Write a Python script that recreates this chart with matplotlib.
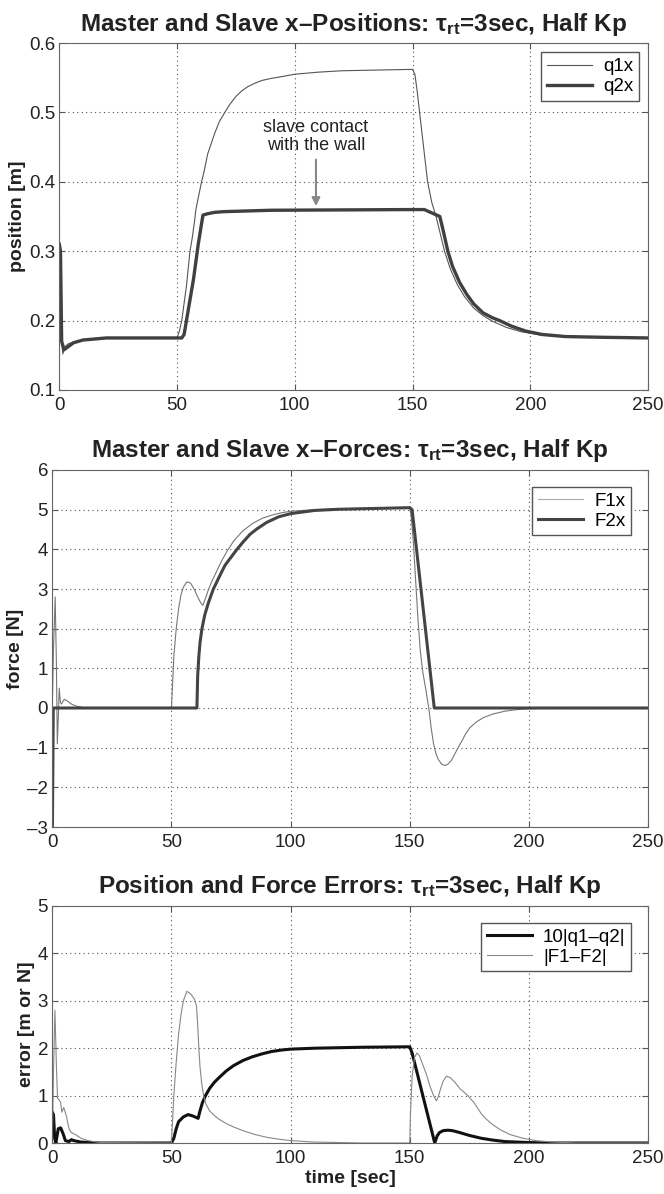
import numpy as np
import matplotlib.pyplot as plt

# --- data (time [sec], value) ---
t_q1 = [0, 0.5, 1, 1.5, 2.5, 4, 8, 15, 30, 50, 51, 52, 54, 55.5, 56.5, 57.5, 58, 60.4, 61.5, 63,
        64.5, 66, 68, 70.3, 72.5, 75, 77.5, 80, 83, 86, 90, 93.6, 100, 110, 120, 135, 150, 151,
        152, 153, 154.7, 156.4, 158.2, 160, 161.8, 163.6, 166, 169, 172, 176, 180, 184, 190, 196,
        205, 220, 250]
q1x = [0.31, 0.30, 0.17, 0.152, 0.163, 0.167, 0.171, 0.174, 0.175, 0.175, 0.185, 0.20, 0.25, 0.30,
       0.32, 0.345, 0.36, 0.40, 0.415, 0.44, 0.455, 0.47, 0.487, 0.50, 0.512, 0.523, 0.531, 0.537,
       0.542, 0.546, 0.549, 0.551, 0.555, 0.558, 0.560, 0.561, 0.562, 0.555, 0.53, 0.50, 0.45,
       0.40, 0.37, 0.35, 0.325, 0.30, 0.275, 0.252, 0.235, 0.218, 0.207, 0.199, 0.19, 0.184,
       0.179, 0.176, 0.175]

t_q2 = [0, 0.5, 1, 2, 4, 6, 10, 20, 52, 53, 55, 57, 59, 61, 63, 66, 70, 80, 90, 150, 155, 161.6,
        163, 165, 167, 170, 173, 176, 180, 184, 187, 192, 198, 205, 215, 230, 250]
q2x = [0.31, 0.30, 0.17, 0.158, 0.163, 0.168, 0.172, 0.175, 0.175, 0.18, 0.22, 0.26, 0.31, 0.352,
       0.354, 0.356, 0.357, 0.358, 0.359, 0.36, 0.36, 0.35, 0.33, 0.30, 0.278, 0.255, 0.238,
       0.224, 0.211, 0.204, 0.20, 0.192, 0.185, 0.18, 0.177, 0.176, 0.175]

t_f1 = [0, 0.5, 1.2, 1.7, 2.1, 2.5, 2.9, 3.4, 3.8, 5, 6.5, 8, 10, 13, 16, 50, 50.4, 51, 52, 53, 54,
        55, 56.5, 58, 59.5, 61, 62.3, 63.2, 64.5, 65.6, 67, 69, 71, 73.3, 76, 80, 84, 88, 92, 96,
        100, 110, 120, 150, 150.7, 151.5, 152.5, 153.5, 154.5, 155.5, 156.8, 158, 159, 160, 161,
        162, 163.5, 164.8, 166, 167.5, 169, 170.3, 172, 173.5, 175.2, 178, 181, 185, 190, 195,
        199, 205, 215, 250]
f1x = [0, 1.5, 2.8, 1.2, -0.9, -0.3, 0.5, 0.15, 0.1, 0.22, 0.17, 0.1, 0.05, 0.01, 0, 0, 0.5, 1.3,
       2.0, 2.5, 2.85, 3.05, 3.18, 3.15, 3.0, 2.8, 2.65, 2.59, 2.8, 3.0, 3.2, 3.45, 3.7, 3.95, 4.2,
       4.47, 4.65, 4.78, 4.86, 4.92, 4.96, 5.0, 5.02, 5.05, 4.8, 4.2, 3.2, 2.2, 1.4, 0.9, 0.45,
       0.0, -0.5, -0.9, -1.15, -1.3, -1.42, -1.45, -1.42, -1.32, -1.15, -1.0, -0.82, -0.65,
       -0.5, -0.35, -0.24, -0.15, -0.08, -0.04, -0.02, -0.01, 0, 0]

t_f2 = [0, 0.4, 60.7, 61, 61.5, 62, 62.8, 64, 65.5, 67.6, 70, 72.5, 75, 77.5, 80, 83, 86, 90, 95,
        100, 110, 120, 150, 151, 160.3, 250]
f2x = [-3.5, 0, 0, 0.8, 1.3, 1.65, 2.0, 2.35, 2.65, 3.0, 3.3, 3.6, 3.8, 4.0, 4.18, 4.38, 4.52,
       4.68, 4.82, 4.9, 4.98, 5.01, 5.05, 5.0, 0, 0]

t_eq = [0, 0.5, 1, 1.5, 2.5, 3.5, 4.5, 5.5, 7, 8, 9, 12, 20, 50, 51, 52, 53, 55, 57, 59, 61.2,
        62, 63, 64.3, 66, 68, 70, 73, 76, 80, 84, 88, 92, 96, 100, 110, 130, 150, 151, 152.5, 154,
        155.5, 157, 158.5, 159.5, 160.5, 161.5, 162.5, 164, 166, 168, 171, 175, 180, 185, 190,
        200, 210, 250]
err_q = [0.65, 0.6, 0.1, 0.0, 0.3, 0.32, 0.2, 0.05, 0.03, 0.07, 0.05, 0.02, 0, 0, 0.1, 0.3, 0.45,
         0.55, 0.6, 0.57, 0.52, 0.68, 0.85, 1.0, 1.15, 1.28, 1.38, 1.52, 1.63, 1.74, 1.82, 1.88,
         1.93, 1.96, 1.98, 2.0, 2.02, 2.03, 1.9, 1.6, 1.3, 1.0, 0.7, 0.4, 0.2, 0.0, 0.15, 0.22,
         0.26, 0.27, 0.26, 0.22, 0.16, 0.1, 0.06, 0.03, 0.01, 0, 0]

t_ef = [0, 0.5, 1.1, 1.8, 2.2, 3, 3.5, 4, 4.8, 6, 7, 8, 10, 12, 15, 20, 50, 51, 52, 53, 54, 55,
        56.5, 58, 59.5, 60.5, 61, 61.5, 62, 62.7, 63.5, 64.5, 66, 68, 70, 73, 76, 80, 85, 90, 95,
        100, 110, 120, 130, 150, 150.3, 151, 152, 153, 154, 155.5, 157, 158.5, 160, 161.2, 162,
        163, 164, 165.4, 167, 169, 171, 174.4, 177, 180, 182.2, 185, 188, 192, 197.5, 203, 210,
        220, 250]
err_f = [0, 1.5, 2.8, 1.5, 0.95, 0.9, 0.85, 0.65, 0.75, 0.55, 0.3, 0.22, 0.17, 0.1, 0.05, 0.01,
         0, 1.0, 1.7, 2.3, 2.7, 3.0, 3.2, 3.15, 3.05, 2.9, 2.5, 2.0, 1.6, 1.25, 1.0, 0.82, 0.68,
         0.58, 0.5, 0.41, 0.34, 0.26, 0.18, 0.12, 0.08, 0.05, 0.02, 0.01, 0, 0, 0.6, 1.4, 1.8,
         1.9, 1.85, 1.65, 1.45, 1.2, 1.0, 0.89, 0.98, 1.15, 1.3, 1.41, 1.38, 1.28, 1.15, 1.0,
         0.85, 0.62, 0.5, 0.38, 0.28, 0.18, 0.1, 0.05, 0.02, 0, 0]

plt.rcParams['font.family'] = ['Liberation Sans', 'DejaVu Sans']
plt.rcParams['mathtext.fontset'] = 'custom'
plt.rcParams['mathtext.rm'] = 'Liberation Sans:bold'
plt.rcParams['mathtext.it'] = 'Liberation Sans:bold'
plt.rcParams['mathtext.bf'] = 'Liberation Sans:bold'
fig = plt.figure(figsize=(6.64, 11.94), dpi=100)

W, H = 664.0, 1194.0
def mk_axes(left, right, top, bottom):
    return fig.add_axes([left / W, 1 - bottom / H, (right - left) / W, (bottom - top) / H])

ax1 = mk_axes(59.3, 648, 43, 390)
ax2 = mk_axes(52.3, 648, 470, 827)
ax3 = mk_axes(52.3, 648, 906, 1143)

def style(ax, ylim, yticks, ylabel, title):
    ax.set_xlim(0, 250)
    ax.set_ylim(*ylim)
    ax.set_xticks([0, 50, 100, 150, 200, 250])
    ax.set_yticks(yticks)
    ax.grid(True, linestyle=(0, (1, 3)), color='#555555', linewidth=0.8)
    ax.tick_params(direction='in', length=4, color='#555555', labelsize=13.5,
                   labelcolor='#222222', top=True, right=True)
    ax.tick_params(axis='x', pad=5)
    ax.tick_params(axis='y', pad=3)
    ax.set_yticklabels([('%g' % v).replace('-', '\u2013') for v in yticks])
    for s in ax.spines.values():
        s.set_color('#666666')
        s.set_linewidth(0.8)
    ax.set_ylabel(ylabel, fontsize=14, fontweight='bold', color='#222222', labelpad=2)
    ax.set_title(title, fontsize=17.5, fontweight='bold', color='#222222', pad=9)

style(ax1, (0.1, 0.6), [0.1, 0.2, 0.3, 0.4, 0.5, 0.6], 'position [m]',
      'Master and Slave x\u2013Positions: $\\tau_{\\mathrm{rt}}$=3sec, Half Kp')
ax1.plot(t_q1, q1x, color='#555555', lw=0.8, label='q1x')
ax1.plot(t_q2, q2x, color='#404040', lw=2.4, label='q2x')
ax1.annotate('slave contact\nwith the wall', xy=(109, 0.365), xytext=(109, 0.44),
             ha='center', va='bottom', fontsize=13, color='#222222', linespacing=1.05,
             arrowprops=dict(arrowstyle='-|>', color='#888888', lw=1.5, mutation_scale=12,
                             shrinkA=2, shrinkB=0))
ax1.legend(loc='upper right', fontsize=13.5, fancybox=False, edgecolor='#555555',
           handlelength=2.4, borderpad=0.3, labelspacing=0.15, handletextpad=0.6,
           borderaxespad=0.5, framealpha=1)

style(ax2, (-3, 6), list(range(-3, 7)), 'force [N]',
      'Master and Slave x\u2013Forces: $\\tau_{\\mathrm{rt}}$=3sec, Half Kp')
ax2.plot(t_f1, f1x, color='#777777', lw=0.8, label='F1x')
ax2.plot(t_f2, f2x, color='#444444', lw=2.2, label='F2x')
leg2 = ax2.legend(loc='upper right', fontsize=13.5, fancybox=False, edgecolor='#555555',
                  handlelength=2.4, borderpad=0.3, labelspacing=0.15, handletextpad=0.6,
                  borderaxespad=0.9, framealpha=1)
leg2.get_lines()[0].set_color('#aaaaaa')

style(ax3, (0, 5), [0, 1, 2, 3, 4, 5], 'error [m or N]',
      'Position and Force Errors: $\\tau_{\\mathrm{rt}}$=3sec, Half Kp')
ax3.plot(t_eq, err_q, color='#111111', lw=2.2, label='10|q1\u2013q2|')
ax3.plot(t_ef, err_f, color='#888888', lw=0.8, label='|F1\u2013F2|')
ax3.legend(loc='upper right', fontsize=13.5, fancybox=False, edgecolor='#555555',
           handlelength=2.4, borderpad=0.3, labelspacing=0.15, handletextpad=0.6,
           borderaxespad=0.9, framealpha=1)
ax3.set_xlabel('time [sec]', fontsize=14, fontweight='bold', color='#222222', labelpad=2)

fig.savefig('out.png', dpi=100)
